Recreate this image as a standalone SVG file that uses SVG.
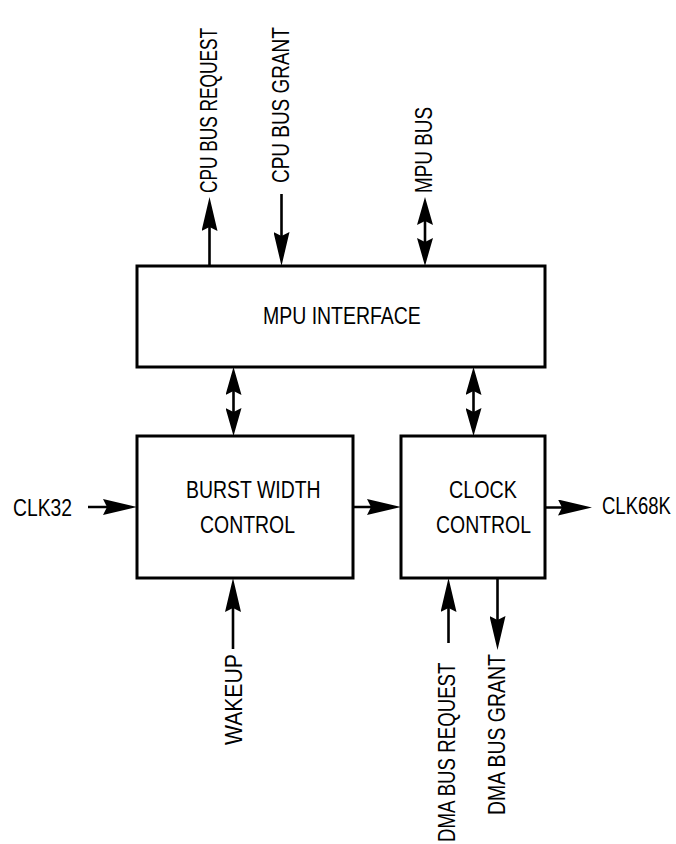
<svg xmlns="http://www.w3.org/2000/svg" width="676" height="844" viewBox="0 0 676 844">
<style>
.box{fill:#fff;stroke:#000;stroke-width:3}
.ln{stroke:#000;stroke-width:2.6;fill:none}
.one{marker-end:url(#ah)}
.two{marker-start:url(#dh);marker-end:url(#dh)}
text{font-family:"Liberation Sans",Arial,sans-serif;font-size:24px;fill:#000}
</style>
<defs>
<marker id="ah" markerUnits="userSpaceOnUse" markerWidth="34" markerHeight="16" viewBox="0 0 34 16" refX="22" refY="8" orient="auto">
<path d="M0,0 L34,8 L0,16 L4,8 z" fill="#000"/>
</marker>
<marker id="dh" markerUnits="userSpaceOnUse" markerWidth="28" markerHeight="16" viewBox="0 0 28 16" refX="18" refY="8" orient="auto-start-reverse">
<path d="M0,0 L28,8 L0,16 L4,8 z" fill="#000"/>
</marker>
</defs>
<rect width="676" height="844" fill="#fff"/>
<g id="connectors">
<line class="ln one" x1="209.5" y1="266" x2="209.5" y2="209"/>
<line class="ln one" x1="281.5" y1="194" x2="281.5" y2="254"/>
<line class="ln two" x1="425" y1="207" x2="425" y2="256"/>
<line class="ln two" x1="233.5" y1="377" x2="233.5" y2="426"/>
<line class="ln two" x1="473.5" y1="377" x2="473.5" y2="426"/>
<line class="ln one" x1="353" y1="507" x2="389" y2="507"/>
<line class="ln one" x1="88" y1="507" x2="125" y2="507"/>
<line class="ln one" x1="545" y1="507.5" x2="580" y2="507.5"/>
<line class="ln one" x1="233" y1="649" x2="233" y2="590"/>
<line class="ln one" x1="448.5" y1="643" x2="448.5" y2="590"/>
<line class="ln one" x1="497.5" y1="578" x2="497.5" y2="638"/>
</g>
<g id="mpu_interface">
<rect class="box" x="137" y="266" width="408" height="101"/>
<text transform="translate(263,323.5) scale(0.811,1)">MPU INTERFACE</text>
</g>
<g id="burst_width_control">
<rect class="box" x="137" y="436" width="216" height="142"/>
<text transform="translate(186,498) scale(0.81,1)">BURST WIDTH</text>
<text transform="translate(200,533) scale(0.81,1)">CONTROL</text>
</g>
<g id="clock_control">
<rect class="box" x="401" y="436" width="144" height="142"/>
<text transform="translate(449,498) scale(0.822,1)">CLOCK</text>
<text transform="translate(436,533) scale(0.81,1)">CONTROL</text>
</g>
<g id="labels">
<text transform="translate(13,516) scale(0.804,1)">CLK32</text>
<text transform="translate(602,514) scale(0.772,1)">CLK68K</text>
<text transform="translate(217,193) rotate(-90) scale(0.72,1)">CPU BUS REQUEST</text>
<text transform="translate(288.5,183) rotate(-90) scale(0.79,1)">CPU BUS GRANT</text>
<text transform="translate(432,193) rotate(-90) scale(0.787,1)">MPU BUS</text>
<text transform="translate(241.5,745) rotate(-90) scale(0.881,1)">WAKEUP</text>
<text transform="translate(455,842) rotate(-90) scale(0.778,1)">DMA BUS REQUEST</text>
<text transform="translate(505,815) rotate(-90) scale(0.81,1)">DMA BUS GRANT</text>
</g>
</svg>
